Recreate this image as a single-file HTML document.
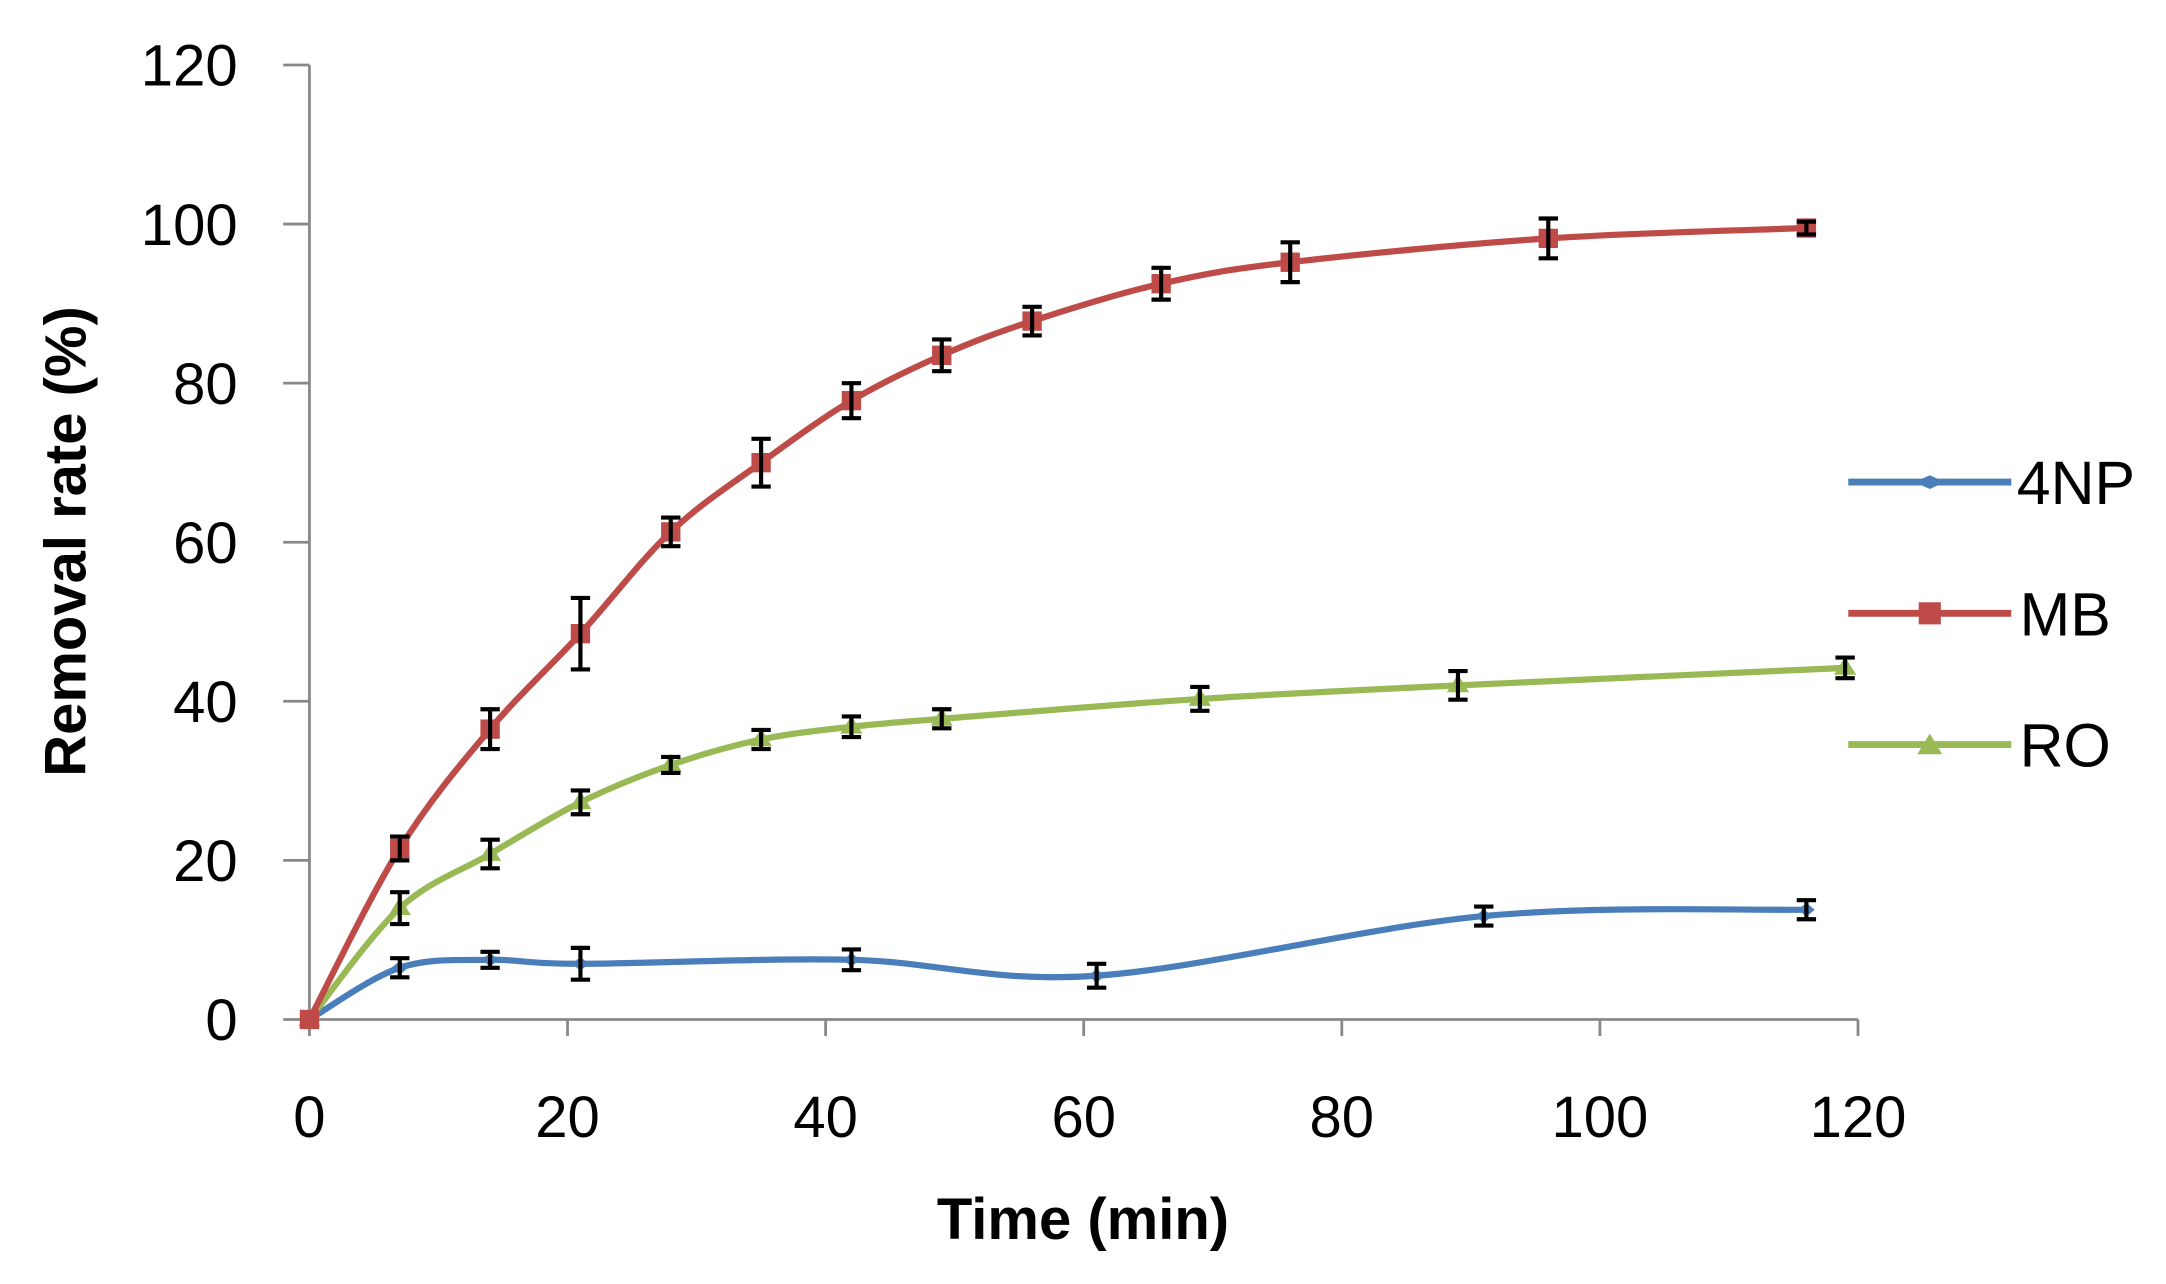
<!DOCTYPE html>
<html><head><meta charset="utf-8"><style>
html,body{margin:0;padding:0;background:#fff;}
svg{display:block;}
text{font-family:"Liberation Sans",sans-serif;}
</style></head><body>
<svg id="s" width="2166" height="1284" viewBox="0 0 1568 929.5" preserveAspectRatio="none" xmlns="http://www.w3.org/2000/svg">
<g stroke="#888" stroke-width="2" fill="none">
<line x1="224" y1="47" x2="224" y2="738"/>
<line x1="224" y1="738" x2="1345" y2="738"/>
</g>
<g id="ticks" stroke="#888" stroke-width="2"></g>
<g id="labels" font-size="42" fill="#000"></g>
<text x="784" y="897" font-size="42" font-weight="bold" text-anchor="middle">Time (min)</text>
<text transform="translate(62,392) rotate(-90)" font-size="42" font-weight="bold" text-anchor="middle">Removal rate (%)</text>
<g id="series"></g>
<g font-size="44" fill="#000">
<line x1="1338" y1="349" x2="1456" y2="349" stroke="#4a7ebb" stroke-width="5"/>
<path d="M1386 349 l11 -5 l11 5 l-11 5z" fill="#4a7ebb"/>
<text x="1460" y="365">4NP</text>
<line x1="1338" y1="444" x2="1456" y2="444" stroke="#be4b48" stroke-width="5"/>
<rect x="1389" y="436" width="16" height="16" fill="#be4b48"/>
<text x="1462" y="460">MB</text>
<line x1="1338" y1="539" x2="1456" y2="539" stroke="#98b954" stroke-width="5"/>
<path d="M1397 531 l9 15 h-18z" fill="#98b954"/>
<text x="1462" y="555">RO</text>
</g>
</svg>
<script>
var NS="http://www.w3.org/2000/svg";
function X(x){return 224+x*9.342;}
function Y(y){return 738-y*5.758;}
function el(p,t,a){var e=document.createElementNS(NS,t);for(var k in a)e.setAttribute(k,a[k]);p.appendChild(e);return e;}
var tk=document.getElementById('ticks'),lb=document.getElementById('labels');
for(var i=0;i<=6;i++){var v=i*20;
 el(tk,'line',{x1:205,x2:224,y1:Y(v),y2:Y(v)});
 el(tk,'line',{x1:X(v),x2:X(v),y1:738,y2:750});
 var t=el(lb,'text',{x:172,y:Y(v)+15,'text-anchor':'end'});t.textContent=v;
 t=el(lb,'text',{x:X(v),y:823,'text-anchor':'middle'});t.textContent=v;
}
var S=[
{c:"#4a7ebb",m:"d",d:[[0,0,0],[7,6.5,1.2],[14,7.5,1],[21,7,2],[42,7.5,1.3],[61,5.5,1.5],[91,13,1.2],[116,13.8,1.2]]},
{c:"#98b954",m:"t",d:[[0,0,0],[7,14,2],[14,20.8,1.8],[21,27.3,1.5],[28,32,1],[35,35.2,1.2],[42,36.8,1.3],[49,37.8,1.2],[69,40.3,1.5],[89,42,1.8],[119,44.2,1.3]]},
{c:"#be4b48",m:"s",d:[[0,0,0],[7,21.5,1.5],[14,36.5,2.5],[21,48.5,4.5],[28,61.3,1.8],[35,70,3],[42,77.8,2.2],[49,83.5,2],[56,87.8,1.8],[66,92.5,2],[76,95.2,2.5],[96,98.2,2.5],[116,99.5,0.8]]}
];
var g=document.getElementById('series');
S.forEach(function(s){
 var p=s.d.map(function(d){return [X(d[0]),Y(d[1])];});
 var d="M"+p[0][0]+" "+p[0][1];
 for(var i=0;i<p.length-1;i++){
  var p0=p[i-1]||p[i],p1=p[i],p2=p[i+1],p3=p[i+2]||p2,k=6;
  d+=" C"+(p1[0]+(p2[0]-p0[0])/k)+" "+(p1[1]+(p2[1]-p0[1])/k)+" "+(p2[0]-(p3[0]-p1[0])/k)+" "+(p2[1]-(p3[1]-p1[1])/k)+" "+p2[0]+" "+p2[1];
 }
 el(g,'path',{d:d,fill:'none',stroke:s.c,'stroke-width':4.5});
 s.d.forEach(function(q,i){
  var x=X(q[0]),y=Y(q[1]);
  if(s.m=='s')el(g,'rect',{x:x-7,y:y-7,width:14,height:14,fill:s.c});
  else if(s.m=='t')el(g,'path',{d:"M"+x+" "+(y-8)+" l8 13 h-16z",fill:s.c});
  else el(g,'path',{d:"M"+(x-6)+" "+y+" l6 -5 l6 5 l-6 5z",fill:s.c});
  if(q[2]>0){var e=q[2]*5.758;
   el(g,'path',{d:"M"+x+" "+(y-e)+" V"+(y+e)+" M"+(x-7)+" "+(y-e)+" h14 M"+(x-7)+" "+(y+e)+" h14",stroke:"#000","stroke-width":3,fill:"none"});}
 });
});
</script>
</body></html>
